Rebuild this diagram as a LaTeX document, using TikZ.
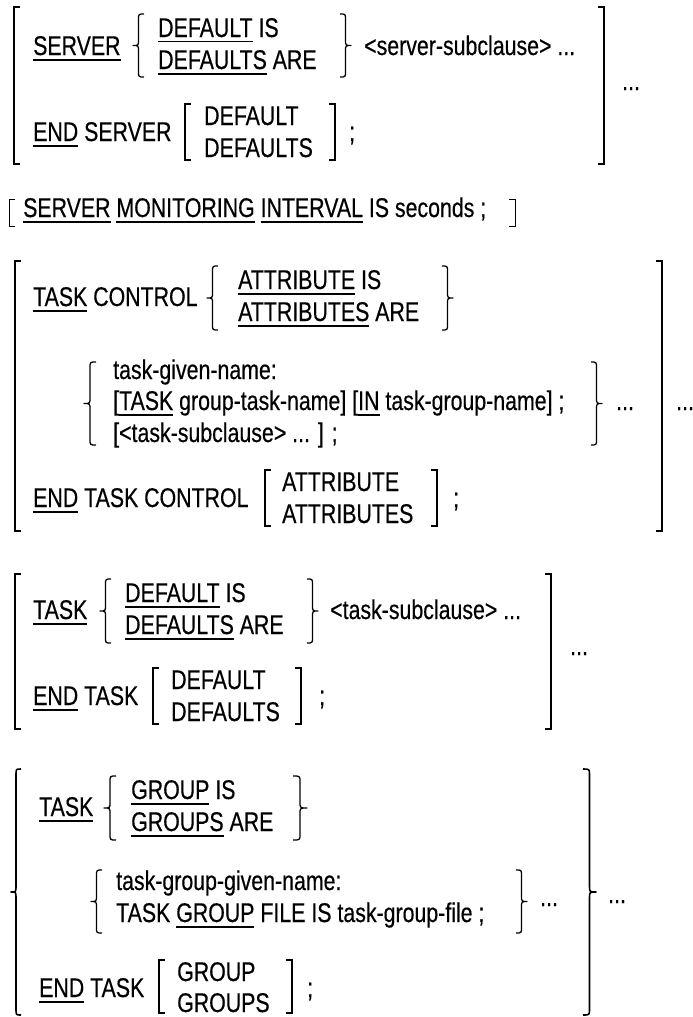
\documentclass[tikz,border=0pt]{standalone}
\usepackage{fontspec}
\setmainfont[FakeStretch=0.79, FakeBold=0.4]{Liberation Sans}

\def\fsz{27}
% underlined key word
\newcommand\kw[1]{\setbox0\hbox{#1}\rlap{\rule[-5.5pt]{\wd0}{1.6pt}}\box0\relax}
% square brackets and braces (x, top, bottom)
\newcommand\openbrk[4][sbrk]{\draw[#1] ({#2+6},#3) -- (#2,#3) -- (#2,#4) -- ({#2+6},#4);}
\newcommand\closebrk[4][sbrk]{\draw[#1] ({#2-6},#3) -- (#2,#3) -- (#2,#4) -- ({#2-6},#4);}
\newcommand\brc[5][brc]{\draw[#1] (#3,#4) .. controls ({(#2+#3)/2},#4) .. ({(#2+#3)/2},{#4+6}) -- ({(#2+#3)/2},{(#4+#5)/2-6}) .. controls ({(#2+#3)/2},{(#4+#5)/2}) .. (#2,{(#4+#5)/2}) .. controls ({(#2+#3)/2},{(#4+#5)/2}) .. ({(#2+#3)/2},{(#4+#5)/2+6}) -- ({(#2+#3)/2},{#5-6}) .. controls ({(#2+#3)/2},#5) .. (#3,#5);}

\begin{document}
\begin{tikzpicture}[x=1pt, y=-1pt,
    every node/.style={anchor=base west, inner sep=0pt, font=\fontsize{\fsz}{32}\selectfont},
    brk/.style={line width=2pt},
    sbrk/.style={line width=1.3pt},
    tbrk/.style={line width=1pt},
    brc/.style={line width=1.3pt, line join=round}]
    \useasboundingbox (0,0) rectangle (693,1017);

    % SERVER DEFAULT
    \node (srv) at (33,55) {\kw{SERVER}};
    \node (srvdef) at (158,37) {\kw{DEFAULT} IS};
    \node (srvdefs) at (158,69) {\kw{DEFAULTS} ARE};
    \node (srvsub) at (364,55) {<server-subclause> ...};
    \node (srvend) at (33,141) {\kw{END} SERVER};
    \node (srvenddef) at (204,125) {DEFAULT};
    \node (srvenddefs) at (204,157) {DEFAULTS};
    \node (srvsemi) at (349,141) {;};
    \node (srvrep) at (622,90) {...};
    \openbrk[brk]{14}{7}{164}
    \closebrk[brk]{604}{7}{164}
    \brc{133}{144}{14}{77}
    \brc{351}{340}{14}{77}
    \openbrk{185}{104}{160}
    \closebrk{335}{104}{160}

    % SERVER MONITORING INTERVAL
    \node (mon) at (23,217) {\kw{SERVER} \kw{MONITORING} \kw{INTERVAL} IS seconds ;};
    \openbrk[tbrk]{9}{199}{226}
    \closebrk[tbrk]{515}{199}{226}

    % TASK CONTROL
    \node (tc) at (33,306) {\kw{TASK} CONTROL};
    \node (tcattr) at (238,289) {\kw{ATTRIBUTE} IS};
    \node (tcattrs) at (238,321) {\kw{ATTRIBUTES} ARE};
    \node (tcname) at (113,379) {task-given-name:};
    \node (tcgroup) at (113,410) {[\kw{TASK} group-task-name] [\kw{IN} task-group-name] ;};
    \node (tcsub) at (113,442) {[<task-subclause> ... ] ;};
    \node (tcrep) at (616,410) {...};
    \node (tcend) at (33,507) {\kw{END} TASK CONTROL};
    \node (tcendattr) at (282,491) {ATTRIBUTE};
    \node (tcendattrs) at (282,523) {ATTRIBUTES};
    \node (tcsemi) at (453,507) {;};
    \node (tcrep2) at (676,410) {...};
    \openbrk[brk]{15}{261}{531}
    \closebrk[brk]{662}{261}{531}
    \brc{207}{218}{266}{330}
    \brc{453}{442}{266}{330}
    \brc{84}{96}{362}{445}
    \brc{602}{591}{362}{445}
    \openbrk{265}{470}{526}
    \closebrk{437}{470}{526}

    % TASK DEFAULT
    \node (td) at (33,619) {\kw{TASK}};
    \node (tddef) at (125,602) {\kw{DEFAULT} IS};
    \node (tddefs) at (125,634) {\kw{DEFAULTS} ARE};
    \node (tdsub) at (330,619) {<task-subclause> ...};
    \node (tdrep) at (570,655) {...};
    \node (tdend) at (33,705) {\kw{END} TASK};
    \node (tdenddef) at (171,689) {DEFAULT};
    \node (tdenddefs) at (171,721) {DEFAULTS};
    \node (tdsemi) at (319,705) {;};
    \openbrk[brk]{15}{574}{729}
    \closebrk[brk]{551}{574}{729}
    \brc{100}{111}{579}{643}
    \brc{318}{307}{579}{643}
    \openbrk{153}{668}{724}
    \closebrk{301}{668}{724}

    % TASK GROUP
    \node (tg) at (39,816) {\kw{TASK}};
    \node (tggrp) at (131,799) {\kw{GROUP} IS};
    \node (tggrps) at (131,831) {\kw{GROUPS} ARE};
    \node (tgname) at (116,890) {task-group-given-name:};
    \node (tgfile) at (116,922) {TASK \kw{GROUP} FILE IS task-group-file ;};
    \node (tgrep) at (540,906) {...};
    \node (tgrep2) at (608,903) {...};
    \node (tgend) at (39,997) {\kw{END} TASK};
    \node (tgendgrp) at (177,981) {GROUP};
    \node (tgendgrps) at (177,1012) {GROUPS};
    \node (tgsemi) at (307,997) {;};
    \brc[brc,line width=1.6pt]{11}{21}{769}{1015}
    \brc[brc,line width=1.6pt]{596}{583}{769}{1015}
    \brc{104}{116}{776}{840}
    \brc{307}{293}{776}{840}
    \brc{91}{102}{870}{933}
    \brc{527}{516}{870}{933}
    \openbrk{159}{960}{1013}
    \closebrk{292}{960}{1013}
\end{tikzpicture}
\end{document}
